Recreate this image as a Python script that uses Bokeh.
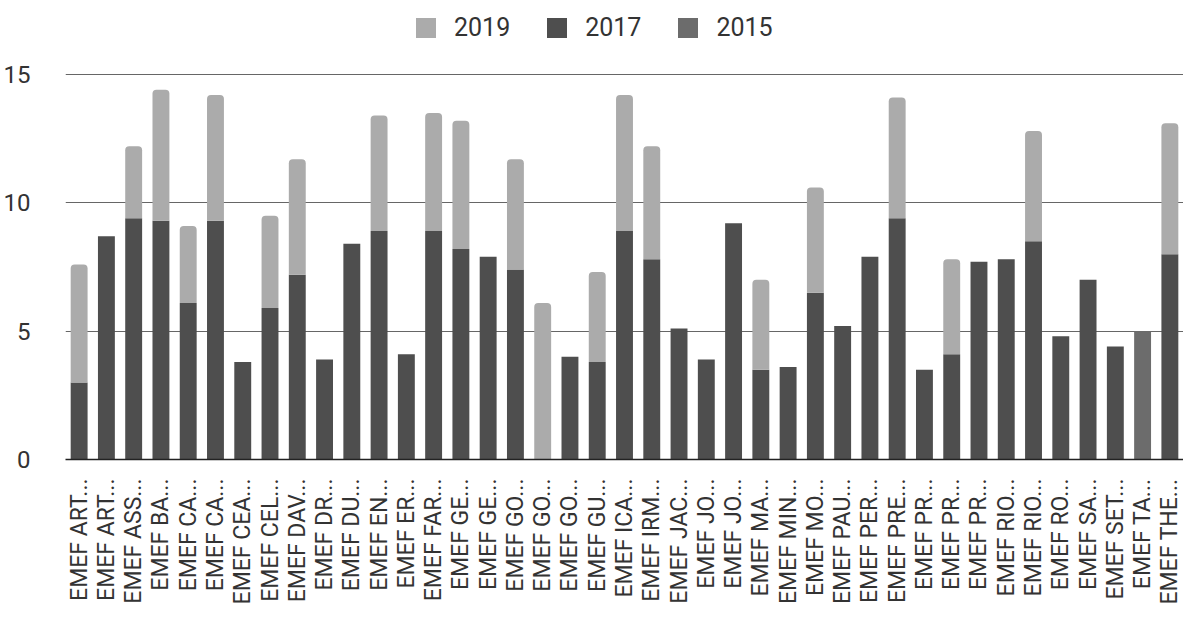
import math
from bokeh.plotting import figure
from bokeh.models import Range1d, FixedTicker, Legend, LegendItem, ColumnDataSource
from bokeh.transform import stack
from bokeh.embed import file_html
from bokeh.resources import INLINE

labels = ["EMEF ART...", "EMEF ART...", "EMEF ASS...", "EMEF BA...", "EMEF CA...", "EMEF CA...",
          "EMEF CEA...", "EMEF CEL...", "EMEF DAV...", "EMEF DR...", "EMEF DU...", "EMEF EN...",
          "EMEF ER...", "EMEF FAR...", "EMEF GE...", "EMEF GE...", "EMEF GO...", "EMEF GO...",
          "EMEF GO...", "EMEF GU...", "EMEF ICA...", "EMEF IRM...", "EMEF JAC...", "EMEF JO...",
          "EMEF JO...", "EMEF MA...", "EMEF MIN...", "EMEF MO...", "EMEF PAU...", "EMEF PER...",
          "EMEF PRE...", "EMEF PR...", "EMEF PR...", "EMEF PR...", "EMEF RIO...", "EMEF RIO...",
          "EMEF RO...", "EMEF SA...", "EMEF SET...", "EMEF TA...", "EMEF THE..."]

v2017 = [3.0, 8.7, 9.4, 9.3, 6.1, 9.3, 3.8, 5.9, 7.2, 3.9, 8.4, 8.9, 4.1, 8.9, 8.2, 7.9, 7.4, 0.0,
         4.0, 3.8, 8.9, 7.8, 5.1, 3.9, 9.2, 3.5, 3.6, 6.5, 5.2, 7.9, 9.4, 3.5, 4.1, 7.7, 7.8, 8.5,
         4.8, 7.0, 4.4, 0.0, 8.0]
v2015 = [0.0, 0.0, 0.0, 0.0, 0.0, 0.0, 0.0, 0.0, 0.0, 0.0, 0.0, 0.0, 0.0, 0.0, 0.0, 0.0, 0.0, 0.0,
         0.0, 0.0, 0.0, 0.0, 0.0, 0.0, 0.0, 0.0, 0.0, 0.0, 0.0, 0.0, 0.0, 0.0, 0.0, 0.0, 0.0, 0.0,
         0.0, 0.0, 0.0, 5.0, 0.0]
v2019 = [4.6, 0.0, 2.8, 5.1, 3.0, 4.9, 0.0, 3.6, 4.5, 0.0, 0.0, 4.5, 0.0, 4.6, 5.0, 0.0, 4.3, 6.1,
         0.0, 3.5, 5.3, 4.4, 0.0, 0.0, 0.0, 3.5, 0.0, 4.1, 0.0, 0.0, 4.7, 0.0, 3.7, 0.0, 0.0, 4.3,
         0.0, 0.0, 0.0, 0.0, 5.1]
y_ticks = [0, 5, 10, 15]

xs = list(range(len(labels)))
src = ColumnDataSource(dict(x=xs, y2015=v2015, y2017=v2017, y2019=v2019))

C2019 = "#ababab"
C2017 = "#4e4e4e"
C2015 = "#6c6c6c"
FONT = "Roboto"

W, H = 1183, 607
left, top, bottom = 51, 5, 148
frame_h = H - top - bottom          # 454 px
px_per_unit = 25.67
y_end = frame_h / px_per_unit        # grid value 15 lands ~74px from top

p = figure(width=W, height=H, output_backend="svg", toolbar_location=None,
           x_range=Range1d(-0.5, len(labels) - 0.5), y_range=Range1d(0, y_end),
           min_border_left=left, min_border_right=0, min_border_top=top,
           min_border_bottom=bottom)
p.outline_line_color = None
p.background_fill_color = "white"

bw = 0.62
r15 = p.vbar(x="x", bottom=0, top=stack("y2015"), width=bw, source=src,
             fill_color=C2015, line_color=None)
r17 = p.vbar(x="x", bottom=stack("y2015"), top=stack("y2015", "y2017"), width=bw, source=src,
             fill_color=C2017, line_color=None)
r19 = p.vbar(x="x", bottom=stack("y2015", "y2017"), top=stack("y2015", "y2017", "y2019"),
             width=bw, source=src, fill_color=C2019, line_color=None, border_radius=(4, 4, 0, 0))

# axes
p.yaxis.ticker = FixedTicker(ticks=y_ticks)
p.yaxis.axis_line_color = None
p.yaxis.major_tick_line_color = None
p.yaxis.minor_tick_line_color = None
p.yaxis.major_label_standoff = 29
p.yaxis.major_label_text_font = FONT
p.yaxis.major_label_text_font_size = "24px"
p.yaxis.major_label_text_color = "#333333"

p.xaxis.ticker = FixedTicker(ticks=xs)
p.xaxis.major_label_overrides = {i: lab for i, lab in enumerate(labels)}
p.xaxis.major_label_orientation = math.pi / 2
p.xaxis.major_tick_line_color = None
p.xaxis.minor_tick_line_color = None
p.xaxis.axis_line_color = "#222222"
p.xaxis.axis_line_width = 1.5
p.xaxis.major_label_standoff = 13
p.xaxis.major_label_text_font = FONT
p.xaxis.major_label_text_font_size = "23px"
p.xaxis.major_label_text_color = "#333333"

p.xgrid.grid_line_color = None
p.ygrid.ticker = FixedTicker(ticks=y_ticks)
p.ygrid.grid_line_color = "#666666"
p.ygrid.grid_line_width = 1

legend = Legend(items=[LegendItem(label="2019", renderers=[r19]),
                       LegendItem(label="2017", renderers=[r17]),
                       LegendItem(label="2015", renderers=[r15])],
                orientation="horizontal", location=(348, frame_h - 19 - 18),
                glyph_width=25, glyph_height=25, label_text_font=FONT,
                label_text_font_size="25px", label_text_color="#333333",
                spacing=34, label_standoff=16, border_line_color=None,
                background_fill_alpha=0, padding=5, margin=0)
p.add_layout(legend)

open("out.html", "w").write(file_html(p, INLINE))
